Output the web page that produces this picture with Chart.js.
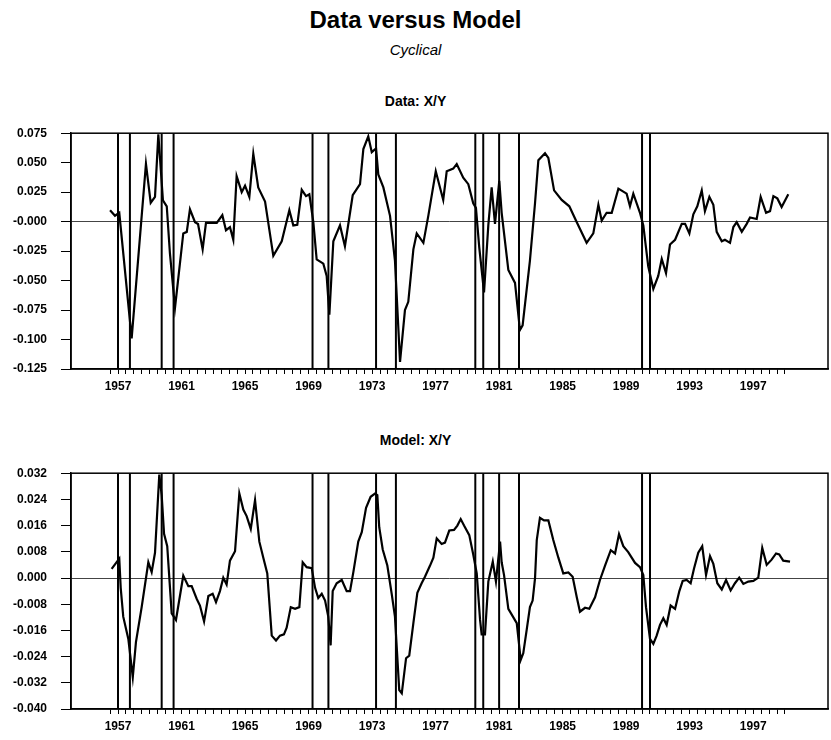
<!DOCTYPE html>
<html>
<head>
<meta charset="utf-8">
<script src="https://cdn.jsdelivr.net/npm/chart.js@4.4.1/dist/chart.umd.min.js"></script>
<style>
  body { margin: 0; width: 831px; height: 740px; overflow: hidden; background: #fff; position: relative;
         font-family: "Liberation Sans", Arial, sans-serif; color: #000; }
  .t { position: absolute; left: 0; width: 831px; text-align: center; line-height: 1; }
  #title { top: 8px; font-size: 24px; font-weight: bold; }
  #sub { top: 42px; font-size: 15px; font-style: italic; }
  .panel { font-size: 14px; font-weight: bold; }
  canvas { position: absolute; left: 0; }
</style>
</head>
<body>
<div id="title" class="t">Data versus Model</div>
<div id="sub" class="t">Cyclical</div>
<div class="t panel" style="top:94px">Data: X/Y</div>
<div class="t panel" style="top:433px">Model: X/Y</div>
<canvas id="dataChart" width="831" height="300" style="top:112px"></canvas>
<canvas id="modelChart" width="831" height="285" style="top:452px"></canvas>
<script>
// decimal years of the plotted vertices
const dataYears = [1957.00, 1957.31, 1957.58, 1958.36, 1959.26, 1959.56, 1959.83, 1960.04, 1960.33, 1960.57,
    1960.77, 1961.09, 1961.61, 1961.83, 1962.03, 1962.35, 1962.54, 1962.83, 1963.04, 1963.72,
    1964.07, 1964.30, 1964.55, 1964.76, 1964.97, 1965.29, 1965.50, 1965.77, 1966.02, 1966.33,
    1966.76, 1967.28, 1967.81, 1968.29, 1968.54, 1968.79, 1969.07, 1969.34, 1969.55, 1969.80,
    1970.01, 1970.43, 1970.64, 1970.81, 1971.06, 1971.48, 1971.79, 1972.28, 1972.74, 1972.95,
    1973.26, 1973.48, 1973.75, 1973.89, 1974.21, 1974.63, 1974.94, 1975.26, 1975.57, 1975.78,
    1976.10, 1976.31, 1976.73, 1977.04, 1977.51, 1977.98, 1978.20, 1978.61, 1978.83, 1979.24,
    1979.56, 1979.87, 1980.04, 1980.25, 1980.55, 1980.82, 1981.03, 1981.24, 1981.51, 1981.66,
    1982.08, 1982.50, 1982.81, 1982.98, 1983.44, 1983.76, 1983.97, 1984.39, 1984.60, 1984.96,
    1985.44, 1985.92, 1986.39, 1987.01, 1987.43, 1987.75, 1987.96, 1988.27, 1988.59, 1989.01,
    1989.53, 1989.74, 1989.95, 1990.37, 1990.58, 1990.89, 1991.21, 1991.52, 1991.74, 1992.01,
    1992.26, 1992.58, 1993.00, 1993.21, 1993.48, 1993.73, 1993.98, 1994.26, 1994.46, 1994.74,
    1994.99, 1995.20, 1995.52, 1995.72, 1996.04, 1996.25, 1996.46, 1996.78, 1997.09, 1997.30,
    1997.72, 1997.97, 1998.31, 1998.56, 1998.77, 1999.02, 1999.29, 1999.71];
const dataValues = [0.0097, 0.005, 0.0075, -0.099, 0.049, 0.016, 0.021, 0.074, 0.018, 0.013,
    -0.027, -0.073, -0.010, -0.0087, 0.0105, -0.0005, -0.002, -0.0235, -0.001, -0.001,
    0.0055, -0.0073, -0.0046, -0.0154, 0.0386, 0.025, 0.0305, 0.021, 0.0575, 0.029,
    0.017, -0.029, -0.0167, 0.0097, -0.0032, -0.0027, 0.027, 0.0216, 0.0232, -0.0005,
    -0.032, -0.0356, -0.046, -0.079, -0.0167, -0.0032, -0.0208, 0.0224, 0.0318, 0.0615,
    0.0723, 0.0589, 0.062, 0.040, 0.029, 0.0049, -0.033, -0.119, -0.075, -0.068,
    -0.0235, -0.010, -0.018, 0.0049, 0.0427, 0.0184, 0.0427, 0.045, 0.0488, 0.0372,
    0.0318, 0.0156, 0.0116, -0.022, -0.060, -0.003, 0.029, -0.002, 0.0346, 0.0075,
    -0.041, -0.052, -0.092, -0.088, -0.033, 0.0156, 0.052, 0.058, 0.054, 0.0265,
    0.0184, 0.013, -0.0005, -0.018, -0.010, 0.0143, 0.0008, 0.0075, 0.0075, 0.028,
    0.0237, 0.013, 0.0237, 0.0075, -0.0032, -0.038, -0.057, -0.046, -0.0316, -0.0437,
    -0.0194, -0.0154, -0.0019, -0.0019, -0.010, 0.0062, 0.013, 0.0265, 0.0089, 0.021,
    0.0143, -0.0087, -0.0167, -0.0154, -0.018, -0.0046, -0.0005, -0.0087, -0.0019, 0.0035,
    0.0022, 0.021, 0.0075, 0.0089, 0.0216, 0.0197, 0.0124, 0.0232];

const modelYears = [1957.10, 1957.58, 1957.67, 1957.83, 1958.15, 1958.43, 1958.63, 1958.99, 1959.41, 1959.62,
    1959.83, 1960.10, 1960.25, 1960.40, 1960.60, 1960.88, 1961.15, 1961.61, 1961.93, 1962.14,
    1962.46, 1962.66, 1962.92, 1963.19, 1963.46, 1963.67, 1963.92, 1964.13, 1964.34, 1964.55,
    1964.87, 1965.14, 1965.39, 1965.60, 1965.86, 1966.13, 1966.40, 1966.65, 1966.90, 1967.18,
    1967.45, 1967.70, 1967.95, 1968.12, 1968.38, 1968.65, 1968.92, 1969.13, 1969.38, 1969.70,
    1969.91, 1970.11, 1970.33, 1970.54, 1970.74, 1970.89, 1971.02, 1971.27, 1971.59, 1971.90,
    1972.11, 1972.32, 1972.63, 1972.85, 1973.12, 1973.41, 1973.68, 1973.83, 1973.95, 1974.17,
    1974.46, 1974.74, 1974.94, 1975.21, 1975.37, 1975.64, 1975.84, 1976.10, 1976.35, 1976.62,
    1976.83, 1977.15, 1977.36, 1977.57, 1977.88, 1978.09, 1978.36, 1978.66, 1978.87, 1979.08,
    1979.29, 1979.62, 1979.87, 1980.09, 1980.30, 1980.40, 1980.61, 1980.82, 1981.10, 1981.30,
    1981.56, 1981.66, 1981.81, 1982.08, 1982.61, 1982.86, 1983.02, 1983.24, 1983.44, 1983.61,
    1983.76, 1983.87, 1984.07, 1984.33, 1984.60, 1984.91, 1985.23, 1985.54, 1985.86, 1986.13,
    1986.39, 1986.59, 1986.91, 1987.18, 1987.54, 1987.85, 1988.17, 1988.53, 1988.80, 1989.05,
    1989.32, 1989.63, 1990.06, 1990.37, 1990.58, 1990.75, 1991.00, 1991.21, 1991.42, 1991.63,
    1991.84, 1992.05, 1992.30, 1992.58, 1992.85, 1993.06, 1993.31, 1993.56, 1993.77, 1994.04,
    1994.29, 1994.53, 1994.78, 1994.99, 1995.24, 1995.52, 1995.79, 1996.08, 1996.35, 1996.62,
    1996.88, 1997.19, 1997.51, 1997.82, 1998.07, 1998.35, 1998.66, 1998.94, 1999.14, 1999.39,
    1999.82];
const modelValues = [0.0028, 0.0059, -0.003, -0.0118, -0.0186, -0.0303, -0.0196, -0.0089, 0.0048, 0.0018,
    0.0077, 0.0316, 0.0253, 0.0135, 0.0097, -0.0108, -0.0128, 0.0007, -0.0025, -0.0025,
    -0.0064, -0.0084, -0.0133, -0.0055, -0.0048, -0.0074, -0.004, 0.0001, -0.002, 0.0053,
    0.0082, 0.0258, 0.0209, 0.0189, 0.015, 0.0238, 0.0111, 0.0062, 0.0014, -0.0176,
    -0.0191, -0.0176, -0.0172, -0.0152, -0.0089, -0.0094, -0.0089, 0.0048, 0.0033, 0.003,
    -0.003, -0.0061, -0.0048, -0.0069, -0.0118, -0.0206, -0.004, -0.0016, -0.0006, -0.004,
    -0.004, 0.0018, 0.0111, 0.014, 0.0214, 0.0248, 0.0258, 0.0253, 0.0155, 0.0087,
    0.0038, -0.005, -0.0118, -0.0342, -0.0352, -0.0245, -0.0237, -0.0138, -0.0045, -0.0016,
    0.0004, 0.0038, 0.0062, 0.0121, 0.0104, 0.0108, 0.0145, 0.0147, 0.016, 0.018,
    0.016, 0.0131, 0.0072, 0.0014, -0.0128, -0.0172, -0.0172, -0.0011, 0.005, -0.0011,
    0.0111, 0.0048, 0.0009, -0.0094, -0.0138, -0.025, -0.023, -0.0157, -0.0089, -0.0069,
    -0.0001, 0.0116, 0.0184, 0.0176, 0.0176, 0.0116, 0.0062, 0.0014, 0.0017, 0.0004,
    -0.0059, -0.0103, -0.0091, -0.0094, -0.0059, -0.0006, 0.0038, 0.0085, 0.0075, 0.0134,
    0.0097, 0.0079, 0.0046, 0.0033, 0.0009, -0.0089, -0.0186, -0.0201, -0.0176, -0.0143,
    -0.0123, -0.0143, -0.0084, -0.0094, -0.004, -0.0009, -0.0006, -0.0016, 0.0028, 0.0077,
    0.0097, 0.0009, 0.0067, 0.0043, -0.0016, -0.0035, -0.0006, -0.0038, -0.0016, 0.0001,
    -0.0018, -0.0011, -0.0009, 0.0001, 0.0092, 0.004, 0.0056, 0.0075, 0.0072, 0.0053,
    0.005];

// recession peak / trough dates drawn as vertical lines
const recessionDates = [1957.5, 1958.25, 1960.25, 1961.0, 1969.75, 1970.75, 1973.75, 1975.0,
    1980.0, 1980.5, 1981.5, 1982.75, 1990.5, 1991.0];

const yearLabels = [1957, 1961, 1965, 1969, 1973, 1977, 1981, 1985, 1989, 1993, 1997];
const dataTicks = [-0.125, -0.1, -0.075, -0.05, -0.025, 0, 0.025, 0.05, 0.075];
const modelTicks = [-0.04, -0.032, -0.024, -0.016, -0.008, 0, 0.008, 0.016, 0.024, 0.032];

const xTicks = [];
for (let y = 1957; y <= 1999.5; y += 0.5) xTicks.push(y);

const tickFont = { family: "'Liberation Sans', Arial, sans-serif", size: 12, weight: 'bold' };

const framePlugin = {
    id: 'frame',
    afterDraw(chart) {
        const a = chart.chartArea;
        const c = chart.ctx;
        c.save();
        c.strokeStyle = '#000';
        c.lineWidth = 1.5;
        c.strokeRect(a.left, a.top, a.right - a.left, a.bottom - a.top);
        c.restore();
    }
};

function recessionPoints(lo, hi) {
    const pts = [];
    recessionDates.forEach(d => {
        pts.push({ x: d, y: lo }, { x: d, y: hi }, { x: d, y: null });
    });
    return pts;
}

function makeChart(id, years, values, ticks, zeroText, axisHeight) {
    const lo = ticks[0];
    const hi = ticks[ticks.length - 1];
    return new Chart(document.getElementById(id), {
        type: 'line',
        data: {
            datasets: [
                {
                    data: years.map((x, i) => ({ x: x, y: values[i] })),
                    borderColor: '#000',
                    borderWidth: 2.2,
                    pointRadius: 0,
                    tension: 0
                },
                {
                    data: recessionPoints(lo, hi),
                    borderColor: '#000',
                    borderWidth: 2,
                    pointRadius: 0,
                    spanGaps: false
                }
            ]
        },
        options: {
            responsive: false,
            animation: false,
            devicePixelRatio: 1,
            layout: { padding: { left: 0, right: 3, top: 10, bottom: 0 } },
            plugins: { legend: { display: false }, tooltip: { enabled: false } },
            scales: {
                x: {
                    type: 'linear',
                    min: 1954.54,
                    max: 2002.21,
                    afterBuildTicks: s => { s.ticks = xTicks.map(v => ({ value: v })); },
                    afterFit: s => { s.height = axisHeight; },
                    grid: { drawOnChartArea: false, color: '#000', tickLength: 5, lineWidth: 1 },
                    border: { color: '#000', width: 1.5 },
                    ticks: {
                        autoSkip: false,
                        maxRotation: 0,
                        padding: 5,
                        color: '#000',
                        font: tickFont,
                        callback: v => yearLabels.includes(v - 0.5) ? String(v - 0.5) : ''
                    }
                },
                y: {
                    min: lo,
                    max: hi,
                    afterBuildTicks: s => { s.ticks = ticks.map(v => ({ value: v })); },
                    afterFit: s => { s.width = 71; },
                    grid: {
                        color: c => c.tick && c.tick.value === 0 ? '#444' : 'rgba(0,0,0,0)',
                        tickColor: '#000',
                        tickLength: 10,
                        lineWidth: 1
                    },
                    border: { color: '#000', width: 1.5 },
                    ticks: {
                        padding: 14,
                        color: '#000',
                        font: tickFont,
                        callback: v => v === 0 ? zeroText : v.toFixed(3)
                    }
                }
            }
        },
        plugins: [framePlugin]
    });
}

makeChart('dataChart', dataYears, dataValues, dataTicks, '-0.000', 43);
makeChart('modelChart', modelYears, modelValues, modelTicks, '0.000', 28);
</script>
</body>
</html>
